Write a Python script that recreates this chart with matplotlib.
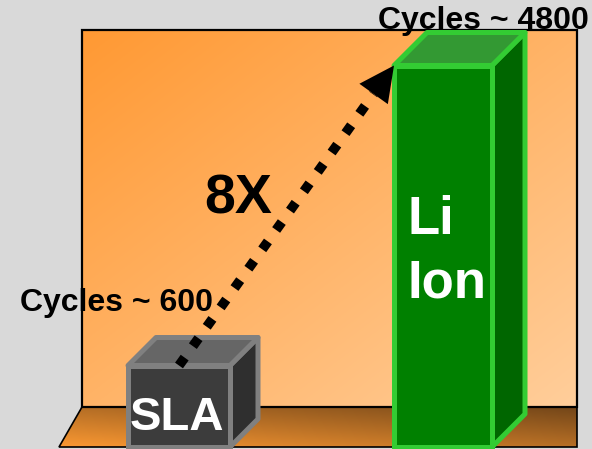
"""Cycle life comparison: SLA vs Li Ion, drawn as clip-art style 3D bars."""

import matplotlib.pyplot as plt
import numpy as np
from matplotlib.patches import Polygon, Rectangle

plt.rcParams['font.family'] = ['Liberation Sans', 'DejaVu Sans']
plt.rcParams['font.weight'] = 'bold'

batteries = ['SLA', 'Li\nIon']
cycles = [600, 4800]
cycle_labels = ['Cycles ~ 600', 'Cycles ~ 4800']

W, H = 592, 449
FLOOR = -541          # cycle value at the front edge of the floor
PER_PX = 14           # cycles per pixel on the bar axis


def blend(c0, c1, t):
    c0 = np.array(c0) / 255
    c1 = np.array(c1) / 255
    return c0 + (c1 - c0) * t[..., None]


fig = plt.figure(figsize=(W / 100, H / 100), dpi=100, facecolor='#d9d9d9')

# backdrop: wall and floor, in pixel units
scene = fig.add_axes([0, 0, 1, 1])
scene.set_xlim(0, W)
scene.set_ylim(H, 0)
scene.axis('off')

gx, gy = np.meshgrid(np.linspace(0, 1, 300), np.linspace(0, 1, 300))
scene.imshow(blend((255, 153, 51), (255, 206, 155), (gx + gy) / 2),
             extent=(82, 577, 407, 30), aspect='auto', zorder=0)
scene.add_patch(Rectangle((82, 30), 495, 377, fill=False, ec='black',
                          lw=1.6, zorder=1))

fx, fy = np.meshgrid(np.linspace(0, 1, 300), np.linspace(0, 1, 60))
floor_img = scene.imshow(
    blend((250, 152, 50), (115, 70, 25), np.clip(0.5 * (1 - fy) + 0.5 * fx, 0, 1)),
    extent=(59, 577, 447, 407), aspect='auto', zorder=0)
floor_poly = Polygon([(82, 407), (577, 407), (577, 447), (59, 447)],
                     closed=True, fill=False, ec='black', lw=1.2, zorder=1)
scene.add_patch(floor_poly)
floor_img.set_clip_path(floor_poly)

# bars, in cycles
ax = fig.add_axes([0, 0, 1, 1])
ax.patch.set_visible(False)
ax.axis('off')
ax.set_xlim(0, W)
ax.set_ylim(FLOOR - 2 * PER_PX, FLOOR + 447 * PER_PX)

xpos = [179, 443]
widths = [102, 98]
depths = [28, 33]
front_colors = ['#3c3c3c', '#008000']
top_colors = ['#666666', '#339933']
side_colors = ['#2f2f2f', '#006600']
edge_colors = ['#808080', '#33cc33']

bars = ax.bar(xpos, np.subtract(cycles, FLOOR), bottom=FLOOR, width=widths,
              color=front_colors, edgecolor=edge_colors, linewidth=3.6,
              zorder=3)

to_px = ax.transData.transform
to_data = ax.transData.inverted().transform

for rect, d, top_c, side_c, edge_c in zip(bars, depths, top_colors,
                                          side_colors, edge_colors):
    x0, y0 = rect.get_x(), rect.get_y()
    x1, y1 = x0 + rect.get_width(), y0 + rect.get_height()
    (px0, py1), (px1, py0) = to_px([(x0, y1), (x1, y0)])
    top = [(px0, py1), (px1, py1), (px1 + d, py1 + d), (px0 + d, py1 + d)]
    side = [(px1, py1), (px1 + d, py1 + d), (px1 + d, py0 + d), (px1, py0)]
    for face, c in ((side, side_c), (top, top_c)):
        ax.add_patch(Polygon(to_data(face), closed=True, fc=c, ec=edge_c,
                             lw=3.6, joinstyle='round', zorder=2))

# dotted arrow from the SLA top to the Li Ion top
start = to_px((xpos[0], cycles[0]))
tip = to_px((bars[1].get_x(), cycles[1]))
u = (tip - start) / np.hypot(*(tip - start))
n = np.array([-u[1], u[0]])
base = tip - 35 * u
line = to_data([start, base])
ax.plot(line[:, 0], line[:, 1], color='black', lw=7,
        linestyle=(0, (1.0, 1.45)), solid_capstyle='butt', zorder=4)
ax.add_patch(Polygon(to_data([tip, base + 17.5 * n, base - 17.5 * n]),
                     closed=True, fc='black', ec='none', zorder=4))

mid = to_data((start + tip) / 2)
ax.annotate(f'{cycles[1] // cycles[0]}X', xy=mid, xytext=(-34.6, 1.1),
            textcoords='offset points', ha='center', va='baseline',
            fontsize=40, zorder=5)

# cycle counts above the bars
label_offsets = [(-45, 39), (29, 26.5)]
for x, c, lab, off in zip(xpos, cycles, cycle_labels, label_offsets):
    ax.annotate(lab, xy=(x, c), xytext=off, textcoords='offset points',
                ha='center', va='baseline', fontsize=23, zorder=5)

# battery names on the bar faces
ax.annotate(batteries[0], xy=(xpos[0], FLOOR), xytext=(-1.5, 12.2),
            textcoords='offset points', ha='center', va='baseline',
            color='white', fontsize=34, zorder=5)
ax.annotate(batteries[1], xy=(bars[1].get_x(), cycles[1]), xytext=(10, -166.7),
            textcoords='offset points', ha='left', va='baseline',
            color='white', fontsize=38, linespacing=1.33, zorder=5)

fig.savefig('out.png', dpi=100, facecolor=fig.get_facecolor())
